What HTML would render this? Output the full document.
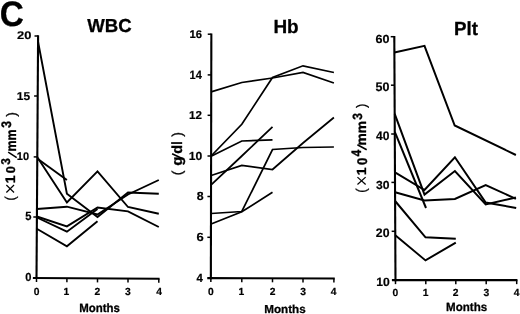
<!DOCTYPE html>
<html><head><meta charset="utf-8"><title>Figure C</title>
<style>
html,body{margin:0;padding:0;background:#fff;}
body{width:520px;height:314px;overflow:hidden;font-family:"Liberation Sans",sans-serif;-webkit-font-smoothing:antialiased;}
svg{display:block;will-change:transform;}
</style></head><body>
<svg width="520" height="314" viewBox="0 0 520 314" font-family='"Liberation Sans", sans-serif' font-weight="bold" fill="#000" text-rendering="geometricPrecision" stroke-linejoin="round">
<defs><filter id="soft" filterUnits="userSpaceOnUse" x="0" y="0" width="520" height="314"><feGaussianBlur stdDeviation="0.35"/></filter></defs>
<rect width="520" height="314" fill="#fff"/>
<g filter="url(#soft)">
<text transform="translate(-0.28,25.80) scale(0.938,0.996)" font-size="35.5" stroke="#000" stroke-width="0.3">C</text>
<text transform="translate(87.15,32.06) scale(0.979,0.990)" font-size="19" stroke="#000" stroke-width="0.3">WBC</text>
<text transform="translate(273.42,32.54) scale(0.997,1.000)" font-size="19" stroke="#000" stroke-width="0.3">Hb</text>
<text transform="translate(454.03,35.09) scale(0.987,1.000)" font-size="19" stroke="#000" stroke-width="0.3">Plt</text>
<line x1="38.10" y1="35.30" x2="36.50" y2="279.05" stroke="#000" stroke-width="2.1" stroke-linecap="butt"/>
<line x1="32.90" y1="278.00" x2="159.55" y2="278.80" stroke="#000" stroke-width="2.1" stroke-linecap="butt"/>
<line x1="34.50" y1="36.00" x2="38.10" y2="36.00" stroke="#000" stroke-width="1.5" stroke-linecap="butt"/>
<line x1="34.10" y1="96.00" x2="37.70" y2="96.00" stroke="#000" stroke-width="1.5" stroke-linecap="butt"/>
<line x1="33.70" y1="156.90" x2="37.30" y2="156.90" stroke="#000" stroke-width="1.5" stroke-linecap="butt"/>
<line x1="33.30" y1="217.00" x2="36.90" y2="217.00" stroke="#000" stroke-width="1.5" stroke-linecap="butt"/>
<line x1="36.50" y1="278.00" x2="36.50" y2="282.00" stroke="#000" stroke-width="1.5" stroke-linecap="butt"/>
<line x1="66.90" y1="278.20" x2="66.90" y2="282.20" stroke="#000" stroke-width="1.5" stroke-linecap="butt"/>
<line x1="97.50" y1="278.40" x2="97.50" y2="282.40" stroke="#000" stroke-width="1.5" stroke-linecap="butt"/>
<line x1="128.00" y1="278.60" x2="128.00" y2="282.60" stroke="#000" stroke-width="1.5" stroke-linecap="butt"/>
<line x1="158.80" y1="278.80" x2="158.80" y2="282.80" stroke="#000" stroke-width="1.5" stroke-linecap="butt"/>
<text transform="translate(17.10,39.44) scale(1.079,0.927)" font-size="12.0" stroke="#000" stroke-width="0.2">20</text>
<text transform="translate(16.77,99.84) scale(0.997,0.952)" font-size="12.0" stroke="#000" stroke-width="0.2">15</text>
<text transform="translate(16.78,160.14) scale(0.920,0.927)" font-size="12.0" stroke="#000" stroke-width="0.2">10</text>
<text transform="translate(25.31,220.03) scale(0.933,1.000)" font-size="12.0" stroke="#000" stroke-width="0.2">5</text>
<text transform="translate(25.20,280.63) scale(0.930,0.974)" font-size="12.0" stroke="#000" stroke-width="0.2">0</text>
<text transform="translate(33.64,294.93) scale(1.000,1.000)" font-size="10.3" stroke="#000" stroke-width="0.2">0</text>
<text transform="translate(63.56,294.93) scale(1.000,1.000)" font-size="10.3" stroke="#000" stroke-width="0.2">1</text>
<text transform="translate(94.54,294.98) scale(1.000,1.000)" font-size="10.3" stroke="#000" stroke-width="0.2">2</text>
<text transform="translate(125.12,294.93) scale(1.000,1.000)" font-size="10.3" stroke="#000" stroke-width="0.2">3</text>
<text transform="translate(156.22,294.93) scale(1.000,1.000)" font-size="10.3" stroke="#000" stroke-width="0.2">4</text>
<text transform="translate(79.26,311.73) scale(0.954,1.003)" font-size="12" stroke="#000" stroke-width="0.3">Months</text>
<polyline points="38.00,41.50 66.90,193.80 97.50,217.00 128.00,192.50 158.80,193.80" fill="none" stroke="#000" stroke-width="1.9" stroke-linejoin="miter" stroke-linecap="butt"/>
<polyline points="37.20,157.00 66.90,202.50 97.50,171.30 128.00,207.00 158.80,213.80" fill="none" stroke="#000" stroke-width="1.9" stroke-linejoin="miter" stroke-linecap="butt"/>
<polyline points="37.20,158.50 66.90,180.00" fill="none" stroke="#000" stroke-width="1.9" stroke-linejoin="miter" stroke-linecap="butt"/>
<polyline points="36.90,209.00 66.90,206.70 97.50,214.50 128.00,194.50 158.80,180.00" fill="none" stroke="#000" stroke-width="1.9" stroke-linejoin="miter" stroke-linecap="butt"/>
<polyline points="36.90,216.50 66.90,226.40 97.50,207.50 128.00,211.30 158.80,227.00" fill="none" stroke="#000" stroke-width="1.9" stroke-linejoin="miter" stroke-linecap="butt"/>
<polyline points="36.90,217.50 66.90,231.70 97.50,209.00" fill="none" stroke="#000" stroke-width="1.9" stroke-linejoin="miter" stroke-linecap="butt"/>
<polyline points="36.80,228.80 66.90,246.30 97.50,221.30" fill="none" stroke="#000" stroke-width="1.9" stroke-linejoin="miter" stroke-linecap="butt"/>
<line x1="211.35" y1="33.50" x2="210.85" y2="279.15" stroke="#000" stroke-width="2.1" stroke-linecap="butt"/>
<line x1="207.25" y1="278.10" x2="334.75" y2="278.50" stroke="#000" stroke-width="2.1" stroke-linecap="butt"/>
<line x1="207.75" y1="34.20" x2="211.35" y2="34.20" stroke="#000" stroke-width="1.5" stroke-linecap="butt"/>
<line x1="207.67" y1="74.90" x2="211.27" y2="74.90" stroke="#000" stroke-width="1.5" stroke-linecap="butt"/>
<line x1="207.58" y1="115.30" x2="211.18" y2="115.30" stroke="#000" stroke-width="1.5" stroke-linecap="butt"/>
<line x1="207.50" y1="156.00" x2="211.10" y2="156.00" stroke="#000" stroke-width="1.5" stroke-linecap="butt"/>
<line x1="207.42" y1="196.50" x2="211.02" y2="196.50" stroke="#000" stroke-width="1.5" stroke-linecap="butt"/>
<line x1="207.33" y1="237.30" x2="210.93" y2="237.30" stroke="#000" stroke-width="1.5" stroke-linecap="butt"/>
<line x1="210.85" y1="278.10" x2="210.85" y2="282.10" stroke="#000" stroke-width="1.5" stroke-linecap="butt"/>
<line x1="241.80" y1="278.20" x2="241.80" y2="282.20" stroke="#000" stroke-width="1.5" stroke-linecap="butt"/>
<line x1="272.50" y1="278.30" x2="272.50" y2="282.30" stroke="#000" stroke-width="1.5" stroke-linecap="butt"/>
<line x1="303.00" y1="278.40" x2="303.00" y2="282.40" stroke="#000" stroke-width="1.5" stroke-linecap="butt"/>
<line x1="333.90" y1="278.50" x2="333.90" y2="282.50" stroke="#000" stroke-width="1.5" stroke-linecap="butt"/>
<text transform="translate(189.52,37.84) scale(0.941,0.927)" font-size="12.0" stroke="#000" stroke-width="0.2">16</text>
<text transform="translate(189.49,78.95) scale(0.920,1.014)" font-size="12.0" stroke="#000" stroke-width="0.2">14</text>
<text transform="translate(189.09,119.15) scale(0.970,0.952)" font-size="12.0" stroke="#000" stroke-width="0.2">12</text>
<text transform="translate(188.66,159.63) scale(1.012,0.974)" font-size="12.0" stroke="#000" stroke-width="0.2">10</text>
<text transform="translate(196.78,200.43) scale(1.027,0.986)" font-size="12.0" stroke="#000" stroke-width="0.2">8</text>
<text transform="translate(196.40,241.03) scale(1.080,0.986)" font-size="12.0" stroke="#000" stroke-width="0.2">6</text>
<text transform="translate(196.58,282.25) scale(0.950,1.002)" font-size="12.0" stroke="#000" stroke-width="0.2">4</text>
<text transform="translate(208.02,294.80) scale(1.000,1.000)" font-size="10.3" stroke="#000" stroke-width="0.2">0</text>
<text transform="translate(238.56,294.80) scale(1.000,1.000)" font-size="10.3" stroke="#000" stroke-width="0.2">1</text>
<text transform="translate(269.67,294.86) scale(1.000,1.000)" font-size="10.3" stroke="#000" stroke-width="0.2">2</text>
<text transform="translate(300.14,294.80) scale(1.000,1.000)" font-size="10.3" stroke="#000" stroke-width="0.2">3</text>
<text transform="translate(330.69,294.80) scale(1.000,1.000)" font-size="10.3" stroke="#000" stroke-width="0.2">4</text>
<text transform="translate(264.19,312.83) scale(0.971,0.964)" font-size="12" stroke="#000" stroke-width="0.3">Months</text>
<polyline points="211.10,91.80 241.80,82.50 272.50,78.00 303.00,72.50 333.90,83.00" fill="none" stroke="#000" stroke-width="1.75" stroke-linejoin="miter" stroke-linecap="butt"/>
<polyline points="211.10,156.00 241.80,124.30 272.50,77.50 303.00,65.80 333.90,72.50" fill="none" stroke="#000" stroke-width="1.75" stroke-linejoin="miter" stroke-linecap="butt"/>
<polyline points="211.10,156.30 241.80,141.00 272.50,139.80" fill="none" stroke="#000" stroke-width="1.75" stroke-linejoin="miter" stroke-linecap="butt"/>
<polyline points="211.10,184.80 241.80,156.00 272.50,126.80" fill="none" stroke="#000" stroke-width="1.75" stroke-linejoin="miter" stroke-linecap="butt"/>
<polyline points="211.10,175.50 241.80,165.50 272.50,169.50 303.00,143.00 333.90,117.50" fill="none" stroke="#000" stroke-width="1.75" stroke-linejoin="miter" stroke-linecap="butt"/>
<polyline points="211.10,213.50 241.80,211.50 272.50,149.50 303.00,147.50 333.90,147.00" fill="none" stroke="#000" stroke-width="1.75" stroke-linejoin="miter" stroke-linecap="butt"/>
<polyline points="211.10,224.00 241.80,211.80 272.50,192.30" fill="none" stroke="#000" stroke-width="1.75" stroke-linejoin="miter" stroke-linecap="butt"/>
<line x1="394.30" y1="36.00" x2="395.50" y2="281.20" stroke="#000" stroke-width="2.1" stroke-linecap="butt"/>
<line x1="391.90" y1="280.15" x2="517.45" y2="280.15" stroke="#000" stroke-width="2.1" stroke-linecap="butt"/>
<line x1="390.70" y1="36.70" x2="394.30" y2="36.70" stroke="#000" stroke-width="1.5" stroke-linecap="butt"/>
<line x1="390.94" y1="85.20" x2="394.54" y2="85.20" stroke="#000" stroke-width="1.5" stroke-linecap="butt"/>
<line x1="391.18" y1="134.00" x2="394.78" y2="134.00" stroke="#000" stroke-width="1.5" stroke-linecap="butt"/>
<line x1="391.42" y1="182.40" x2="395.02" y2="182.40" stroke="#000" stroke-width="1.5" stroke-linecap="butt"/>
<line x1="391.66" y1="231.30" x2="395.26" y2="231.30" stroke="#000" stroke-width="1.5" stroke-linecap="butt"/>
<line x1="395.50" y1="280.15" x2="395.50" y2="284.15" stroke="#000" stroke-width="1.5" stroke-linecap="butt"/>
<line x1="425.80" y1="280.15" x2="425.80" y2="284.15" stroke="#000" stroke-width="1.5" stroke-linecap="butt"/>
<line x1="455.80" y1="280.15" x2="455.80" y2="284.15" stroke="#000" stroke-width="1.5" stroke-linecap="butt"/>
<line x1="486.20" y1="280.15" x2="486.20" y2="284.15" stroke="#000" stroke-width="1.5" stroke-linecap="butt"/>
<line x1="516.70" y1="280.15" x2="516.70" y2="284.15" stroke="#000" stroke-width="1.5" stroke-linecap="butt"/>
<text transform="translate(375.51,42.53) scale(1.047,0.974)" font-size="12.0" stroke="#000" stroke-width="0.2">60</text>
<text transform="translate(375.57,91.13) scale(1.042,1.021)" font-size="12.0" stroke="#000" stroke-width="0.2">50</text>
<text transform="translate(376.07,139.93) scale(1.003,1.021)" font-size="12.0" stroke="#000" stroke-width="0.2">40</text>
<text transform="translate(375.95,188.53) scale(1.013,0.974)" font-size="12.0" stroke="#000" stroke-width="0.2">30</text>
<text transform="translate(375.82,237.33) scale(1.023,1.021)" font-size="12.0" stroke="#000" stroke-width="0.2">20</text>
<text transform="translate(376.26,286.13) scale(1.012,0.986)" font-size="12.0" stroke="#000" stroke-width="0.2">10</text>
<text transform="translate(392.39,296.43) scale(1.000,1.000)" font-size="10.3" stroke="#000" stroke-width="0.2">0</text>
<text transform="translate(422.81,296.43) scale(1.000,1.000)" font-size="10.3" stroke="#000" stroke-width="0.2">1</text>
<text transform="translate(452.87,296.48) scale(1.000,1.000)" font-size="10.3" stroke="#000" stroke-width="0.2">2</text>
<text transform="translate(483.62,296.43) scale(1.000,1.000)" font-size="10.3" stroke="#000" stroke-width="0.2">3</text>
<text transform="translate(513.72,296.43) scale(1.000,1.000)" font-size="10.3" stroke="#000" stroke-width="0.2">4</text>
<text transform="translate(446.10,311.38) scale(0.964,0.992)" font-size="12" stroke="#000" stroke-width="0.3">Months</text>
<polyline points="394.40,52.50 424.50,45.80 454.70,125.50 515.90,155.00" fill="none" stroke="#000" stroke-width="2.0" stroke-linejoin="miter" stroke-linecap="butt"/>
<polyline points="394.70,113.80 424.50,194.60 454.90,171.00 485.70,204.50 515.90,197.50" fill="none" stroke="#000" stroke-width="2.0" stroke-linejoin="miter" stroke-linecap="butt"/>
<polyline points="394.80,131.80 426.00,208.00" fill="none" stroke="#000" stroke-width="2.0" stroke-linejoin="miter" stroke-linecap="butt"/>
<polyline points="395.00,172.30 424.50,190.00 454.90,157.30 485.70,202.50 516.20,207.90" fill="none" stroke="#000" stroke-width="2.0" stroke-linejoin="miter" stroke-linecap="butt"/>
<polyline points="395.10,192.20 424.50,200.50 454.90,199.00 485.70,185.00 515.90,198.80" fill="none" stroke="#000" stroke-width="2.0" stroke-linejoin="miter" stroke-linecap="butt"/>
<polyline points="395.10,201.00 425.50,237.30 455.80,238.80" fill="none" stroke="#000" stroke-width="2.0" stroke-linejoin="miter" stroke-linecap="butt"/>
<polyline points="395.30,235.30 425.50,260.40 455.80,242.70" fill="none" stroke="#000" stroke-width="2.0" stroke-linejoin="miter" stroke-linecap="butt"/>
<text transform="translate(15.24,200.40) rotate(-90) scale(0.859,0.988)" font-size="14.5" font-weight="normal" stroke="#000" stroke-width="0.3">(</text>
<line x1="6.35" y1="185.05" x2="14.05" y2="192.45" stroke="#000" stroke-width="1.2" stroke-linecap="butt"/>
<line x1="6.35" y1="192.45" x2="14.05" y2="185.05" stroke="#000" stroke-width="1.2" stroke-linecap="butt"/>
<text transform="translate(15.15,183.37) rotate(-90) scale(1.000,0.983)" font-size="14.0" stroke="#000" stroke-width="0.35">1</text>
<text transform="translate(15.02,173.26) rotate(-90) scale(0.917,0.915)" font-size="14.0" stroke="#000" stroke-width="0.35">0</text>
<text transform="translate(10.42,164.64) rotate(-90) scale(0.850,0.915)" font-size="14.0" stroke="#000" stroke-width="0.35">3</text>
<line x1="16.70" y1="157.70" x2="8.20" y2="152.20" stroke="#000" stroke-width="1.55" stroke-linecap="butt"/>
<text transform="translate(15.55,151.46) rotate(-90) scale(0.857,0.971)" font-size="14.5" stroke="#000" stroke-width="0.35">mm</text>
<text transform="translate(11.11,127.65) rotate(-90) scale(0.866,0.986)" font-size="14.0" stroke="#000" stroke-width="0.35">3</text>
<text transform="translate(15.65,116.69) rotate(-90) scale(0.981,0.952)" font-size="14.5" font-weight="normal" stroke="#000" stroke-width="0.3">)</text>
<text transform="translate(366.36,192.74) rotate(-90) scale(0.911,0.981)" font-size="14.5" font-weight="normal" stroke="#000" stroke-width="0.3">(</text>
<line x1="357.45" y1="177.15" x2="365.65" y2="184.55" stroke="#000" stroke-width="1.2" stroke-linecap="butt"/>
<line x1="357.45" y1="184.55" x2="365.65" y2="177.15" stroke="#000" stroke-width="1.2" stroke-linecap="butt"/>
<text transform="translate(366.25,175.17) rotate(-90) scale(1.000,0.942)" font-size="14.0" stroke="#000" stroke-width="0.35">1</text>
<text transform="translate(366.51,165.08) rotate(-90) scale(0.947,0.996)" font-size="14.0" stroke="#000" stroke-width="0.35">0</text>
<text transform="translate(361.25,156.43) rotate(-90) scale(0.868,0.983)" font-size="14.0" stroke="#000" stroke-width="0.35">4</text>
<line x1="366.70" y1="149.80" x2="357.40" y2="144.80" stroke="#000" stroke-width="1.55" stroke-linecap="butt"/>
<text transform="translate(366.15,145.45) rotate(-90) scale(0.953,0.945)" font-size="14.5" stroke="#000" stroke-width="0.35">mm</text>
<text transform="translate(361.52,119.65) rotate(-90) scale(0.866,0.956)" font-size="14.0" stroke="#000" stroke-width="0.35">3</text>
<text transform="translate(366.05,107.98) rotate(-90) scale(0.902,0.952)" font-size="14.5" font-weight="normal" stroke="#000" stroke-width="0.3">)</text>
<text transform="translate(182.14,175.29) rotate(-90) scale(0.963,0.988)" font-size="14.5" font-weight="normal" stroke="#000" stroke-width="0.3">(</text>
<text transform="translate(181.99,165.85) rotate(-90) scale(1.038,1.014)" font-size="14.5" stroke="#000" stroke-width="0.35">g</text>
<line x1="182.20" y1="158.50" x2="172.10" y2="153.70" stroke="#000" stroke-width="1.55" stroke-linecap="butt"/>
<text transform="translate(182.30,153.83) rotate(-90) scale(0.997,1.004)" font-size="14.5" stroke="#000" stroke-width="0.35">d</text>
<text transform="translate(182.45,144.64) rotate(-90) scale(0.850,1.018)" font-size="14.5" stroke="#000" stroke-width="0.35">l</text>
<text transform="translate(182.14,136.69) rotate(-90) scale(0.981,0.988)" font-size="14.5" font-weight="normal" stroke="#000" stroke-width="0.3">)</text>
</g>
</svg>
</body></html>
